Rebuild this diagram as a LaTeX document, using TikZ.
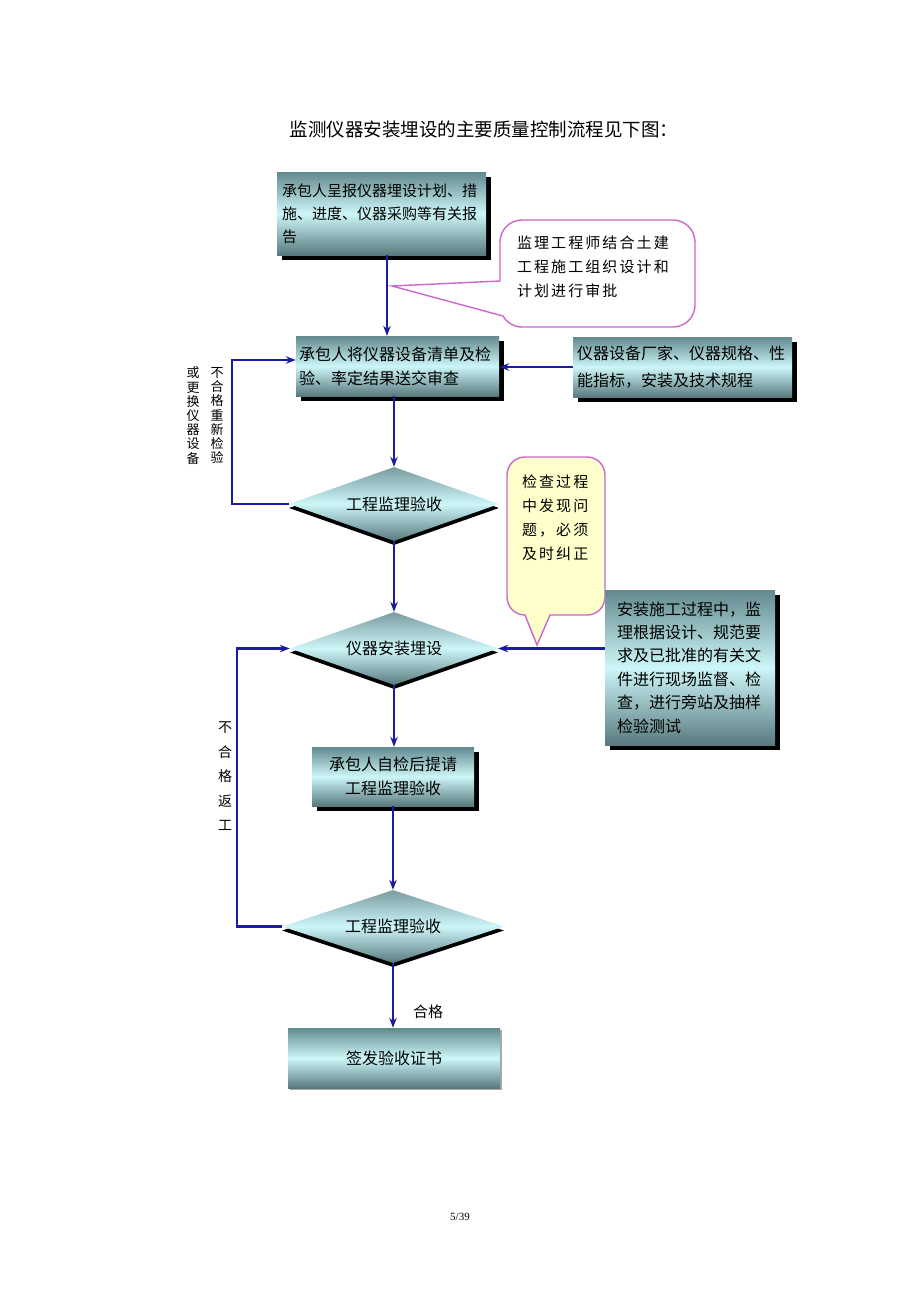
\documentclass[tikz,border=0pt]{standalone}
\usepackage{fontspec}
\setmainfont{Liberation Serif}
\newfontfamily\cjk{Noto Sans CJK SC}
\newfontfamily\cjkwide[LetterSpace=14]{Noto Sans CJK SC}
\usetikzlibrary{shapes.geometric,shadows,arrows.meta}

\definecolor{flowblue}{RGB}{28,28,160}
\definecolor{boxtop}{RGB}{98,138,142}
\definecolor{boxmid}{RGB}{205,246,248}
\definecolor{boxbot}{RGB}{88,122,126}
\definecolor{bubbleline}{RGB}{204,102,204}
\definecolor{bubblefill}{RGB}{255,255,204}

\tikzset{
  flowbox/.style={rectangle, inner sep=0pt, top color=boxtop, bottom color=boxbot,
    middle color=boxmid, font=\cjk\fontsize{16}{24}\selectfont, align=left},
  boxshadow/.style={drop shadow={shadow xshift=5pt, shadow yshift=-5pt, fill=black, opacity=1}},
  decision/.style={diamond, aspect=2.8, inner sep=0pt, top color=boxtop!85!white,
    bottom color=boxbot, middle color=boxmid, font=\cjk\fontsize{16}{20}\selectfont,
    drop shadow={shadow xshift=0pt, shadow yshift=-4pt, fill=black, opacity=1}},
  flow/.style={draw=flowblue, line width=2.6pt, -{Stealth[length=10pt,width=7.5pt]}},
  bubble/.style={draw=bubbleline, line width=1.4pt},
  note/.style={font=\cjkwide\fontsize{15}{24}\selectfont, align=left, inner sep=0pt},
  sidelabel/.style={align=center, inner sep=0pt}
}

\begin{document}
\begin{tikzpicture}[x=1pt, y=1pt]
\useasboundingbox (0,0) rectangle (920,-1302);

\node[font=\cjk\fontsize{18.5}{20}\selectfont] (title) at (484,-129) {监测仪器安装埋设的主要质量控制流程见下图：};

% boxes and decisions
\node[flowbox, boxshadow, minimum width=209pt, minimum height=83pt, text width=199pt,
  font=\cjk\fontsize{15}{23}\selectfont] (report) at (381.5,-213.5)
  {承包人呈报仪器埋设计划、措\\施、进度、仪器采购等有关报\\告};
\node[flowbox, boxshadow, minimum width=203pt, minimum height=60pt, text width=197pt] (submit) at (397.5,-366)
  {承包人将仪器设备清单及检\\验、率定结果送交审查};
\node[flowbox, boxshadow, minimum width=219pt, minimum height=60pt, text width=211pt,
  font=\cjk\fontsize{16}{27}\selectfont] (specs) at (682.5,-367)
  {仪器设备厂家、仪器规格、性\\能指标，安装及技术规程};
\node[decision, minimum width=210pt, minimum height=74pt] (check1) at (394,-504) {工程监理验收};
\node[decision, minimum width=208pt, minimum height=73pt] (install) at (394,-648.5) {仪器安装埋设};

% yellow note
\draw[bubble, fill=bubblefill] (525,-615) -- (537,-645) -- (550,-615) -- (587,-615)
  arc[start angle=270, end angle=360, radius=18] -- (605,-475)
  arc[start angle=0, end angle=90, radius=18] -- (525,-457)
  arc[start angle=90, end angle=180, radius=18] -- (507,-597)
  arc[start angle=180, end angle=270, radius=18] -- cycle;
\node[note, text width=70pt] (remind) at (557,-518) {检查过程\\中发现问\\题，必须\\及时纠正};

\node[flowbox, boxshadow, minimum width=170pt, minimum height=155pt, text width=146pt,
  font=\cjk\fontsize{16}{23.4}\selectfont] (supervise) at (690,-667.5)
  {安装施工过程中，监\\理根据设计、规范要\\求及已批准的有关文\\件进行现场监督、检\\查，进行旁站及抽样\\检验测试};
\node[flowbox, boxshadow, minimum width=162pt, minimum height=59pt, align=center] (selfcheck) at (393,-776.5)
  {承包人自检后提请\\工程监理验收};
\node[decision, minimum width=222pt, minimum height=73pt] (check2) at (393,-926.5) {工程监理验收};
\node[flowbox, minimum width=212pt, minimum height=60pt, align=center,
  drop shadow={shadow xshift=2pt, shadow yshift=-2pt, fill=black!35, opacity=1}] (certify) at (394,-1058) {签发验收证书};

% connectors
\coordinate (loopA) at (232,-504);
\coordinate (loopB) at (237,-926.5);
\draw[flow] ([xshift=5.5pt]report.south) -- ([xshift=5.5pt]report.south |- submit.north);
\draw[flow] (specs.west) -- (specs.west -| submit.east);
\draw[flow] (check1.north |- submit.south) -- (check1.north);
\draw[flow] (check1.west) -- (loopA) |- ([yshift=6pt]submit.west);
\draw[flow] (check1.south) -- (install.north);
\draw[flow] (supervise.west |- install.east) -- (install.east);
\draw[flow] (install.south) -- (install.south |- selfcheck.north);
\draw[flow] (check2.north |- selfcheck.south) -- (check2.north);
\draw[flow] (check2.west) -- (loopB) |- (install.west);
\draw[flow] (check2.south) -- (check2.south |- certify.north);

% white note
\draw[bubble, fill=white] (500,-281) -- (392,-286) -- (502.95,-316)
  arc[start angle=210, end angle=270, radius=22] -- (673,-327)
  arc[start angle=270, end angle=360, radius=22] -- (695,-242)
  arc[start angle=0, end angle=90, radius=22] -- (522,-220)
  arc[start angle=90, end angle=180, radius=22] -- cycle;
\node[note, text width=160pt] (approve) at (597,-267) {监理工程师结合土建\\工程施工组织设计和\\计划进行审批};

% labels
\node[sidelabel, font=\cjk\fontsize{13}{14.2}\selectfont] (redo) at (217,-415.5) {不\\合\\格\\重\\新\\检\\验};
\node[sidelabel, font=\cjk\fontsize{13}{14.2}\selectfont] (replace) at (193,-415.5) {或\\更\\换\\仪\\器\\设\\备};
\node[sidelabel, font=\cjk\fontsize{14}{24.5}\selectfont] (rework) at (225,-776.5) {不\\合\\格\\返\\工};
\node[font=\cjk\fontsize{15}{18}\selectfont] (pass) at (428,-1012) {合格};
\node[font=\fontsize{11}{13}\selectfont] (page) at (460,-1217) {5/39};
\end{tikzpicture}
\end{document}
